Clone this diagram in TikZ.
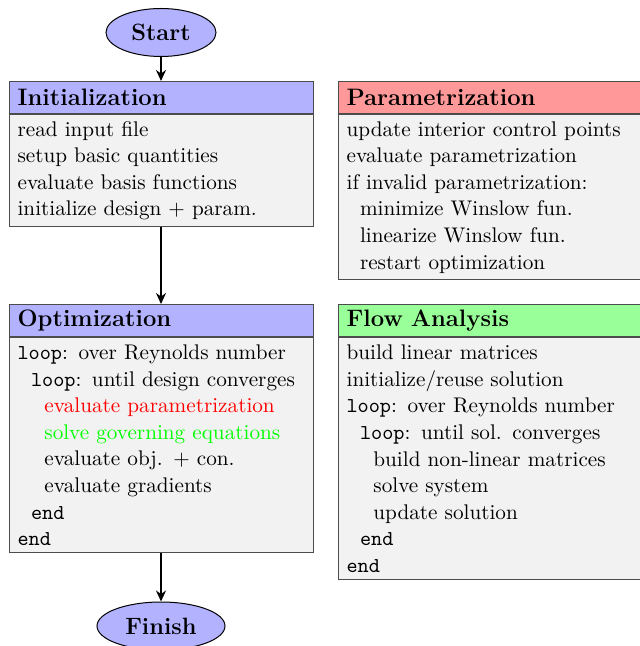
\documentclass[tikz,border=0pt]{standalone}
\usepackage{fontspec}
\usetikzlibrary{shapes.geometric,arrows.meta}
\newcommand\myind{\hspace*{6.7pt}}
\newcommand\mytail{\endgraf\vspace{1.6pt}}
\begin{document}
\begin{tikzpicture}[x=0.5pt,y=-0.5pt,
  hdr/.style={draw=black!70, line width=0.6pt, rectangle, minimum width=152pt,
    minimum height=16pt, inner xsep=4pt, inner ysep=0pt, text width=144pt,
    align=left, anchor=north west, font=\fontsize{11.9}{14}\selectfont\bfseries},
  bodybox/.style={draw=black!70, line width=0.6pt, fill=gray!10, rectangle,
    minimum width=152pt, inner xsep=4pt, inner ysep=0pt, text width=144pt,
    align=left, anchor=north west, font=\fontsize{10.6}{13.3}\selectfont},
  term/.style={ellipse, draw=black, line width=0.5pt, fill=blue!30, inner sep=0pt,
    font=\fontsize{11.8}{14}\selectfont\bfseries},
  flow/.style={-{Stealth[length=5.5pt,width=5pt]}, line width=0.8pt}]
\useasboundingbox (0,0) rectangle (639,646);

\node[term, minimum width=55pt, minimum height=24pt] (start) at (161,32.5) {Start};

\node[hdr, fill=blue!30] (inith) at (9,81) {Initialization};
\node[bodybox, minimum height=56pt] (initb) at (inith.south west)
  {read input file\\
   setup basic quantities\\
   evaluate basis functions\\
   initialize design + param.\mytail};

\node[hdr, fill=red!40] (parh) at (338,81) {Parametrization};
\node[bodybox, minimum height=82.5pt] (parb) at (parh.south west)
  {update interior control points\\
   evaluate parametrization\\
   if invalid parametrization:\\
   \myind minimize Winslow fun.\\
   \myind linearize Winslow fun.\\
   \myind restart optimization\mytail};

\node[hdr, fill=blue!30] (opth) at (9,304) {Optimization};
\node[bodybox, minimum height=107.5pt] (optb) at (opth.south west)
  {\texttt{loop}: over Reynolds number\\
   \myind\texttt{loop}: until design converges\\
   \myind\myind\textcolor{red}{evaluate parametrization}\\
   \myind\myind\textcolor{green}{solve governing equations}\\
   \myind\myind evaluate obj. + con.\\
   \myind\myind evaluate gradients\\
   \myind\texttt{end}\\
   \texttt{end}\mytail};

\node[hdr, fill=green!40] (flowh) at (338,304) {Flow Analysis};
\node[bodybox, minimum height=121pt] (flowb) at (flowh.south west)
  {build linear matrices\\
   initialize/reuse solution\\
   \texttt{loop}: over Reynolds number\\
   \myind\texttt{loop}: until sol. converges\\
   \myind\myind build non-linear matrices\\
   \myind\myind solve system\\
   \myind\myind update solution\\
   \myind\texttt{end}\\
   \texttt{end}\mytail};

\node[term, minimum width=64pt, minimum height=24pt] (finish) at (161,626) {Finish};

\draw[flow] (start.south) -- (inith.north -| start.south);
\draw[flow] (initb.south -| start.south) -- (opth.north -| start.south);
\draw[flow] (optb.south -| start.south) -- (finish.north);
\end{tikzpicture}
\end{document}
